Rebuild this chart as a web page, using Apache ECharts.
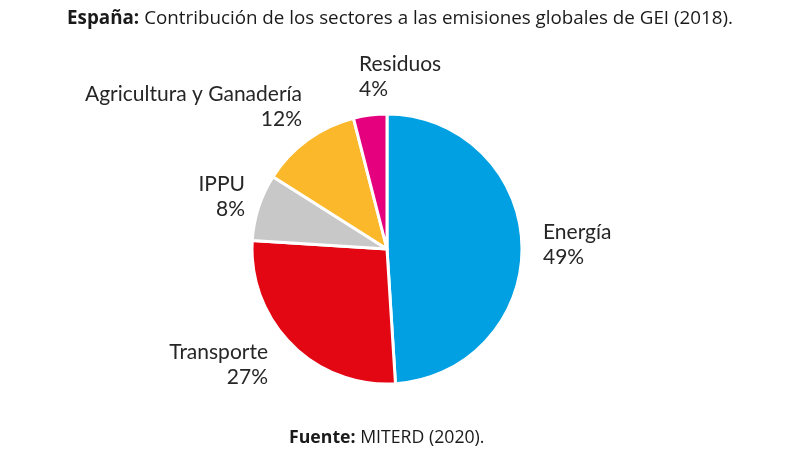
<!DOCTYPE html>
<html><head><meta charset="utf-8">
<script src="https://cdn.jsdelivr.net/npm/echarts@6/dist/echarts.min.js"></script>
<style>html,body{margin:0;padding:0;background:#fff}#c{width:800px;height:450px}</style>
</head><body><div id="c"></div>
<script>
const categories = ['Energía', 'Transporte', 'IPPU', 'Agricultura y Ganadería', 'Residuos'];
const values = [49, 27, 8, 12, 4];
const colors = ['#00A0E3', '#E30613', '#C8C8C8', '#FBB82B', '#E5007E'];

// label anchor layout (text placement only)
const labelPlace = [
  {x: 543, y: 245, align: 'left'},
  {x: 268, y: 365, align: 'right'},
  {x: 245, y: 197, align: 'right'},
  {x: 302, y: 107, align: 'right'},
  {x: 359, y: 77, align: 'left'}
];

const chart = echarts.init(document.getElementById('c'), null, {renderer: 'canvas'});
chart.setOption({
  backgroundColor: '#fff',
  animation: false,
  title: [{
    text: '{b|España:} {r|Contribución de los sectores a las emisiones globales de GEI (2018).}',
    left: 'center', top: 4,
    textStyle: {
      rich: {
        b: {fontFamily: 'Open Sans', fontWeight: 'bold', fontSize: 18.8, color: '#1a1a1a'},
        r: {fontFamily: 'Open Sans', fontWeight: 'normal', fontSize: 18.8, color: '#1a1a1a'}
      }
    }
  }, {
    text: '{b|Fuente:}{r| MITERD (2020).}',
    left: 284, top: 424,
    textStyle: {
      rich: {
        b: {fontFamily: 'Open Sans', fontWeight: 'bold', fontSize: 17.7, color: '#1a1a1a'},
        r: {fontFamily: 'Open Sans', fontWeight: 'normal', fontSize: 17.7, color: '#1a1a1a'}
      }
    }
  }],
  series: [{
    type: 'pie',
    center: [387, 249],
    radius: [0, 135],
    startAngle: 90,
    clockwise: true,
    avoidLabelOverlap: false,
    itemStyle: {borderColor: '#fff', borderWidth: 3},
    label: {
      show: true, position: 'outside',
      formatter: '{b}\n{c}%',
      fontFamily: 'Lato', fontSize: 21, lineHeight: 25, color: '#262626'
    },
    labelLine: {show: false},
    labelLayout: function (p) {
      const L = labelPlace[p.dataIndex];
      return {x: L.x, y: L.y, align: L.align, verticalAlign: 'middle', hideOverlap: false, moveOverlap: false};
    },
    data: categories.map((n, i) => ({name: n, value: values[i], itemStyle: {color: colors[i]}}))
  }]
});
</script></body></html>
